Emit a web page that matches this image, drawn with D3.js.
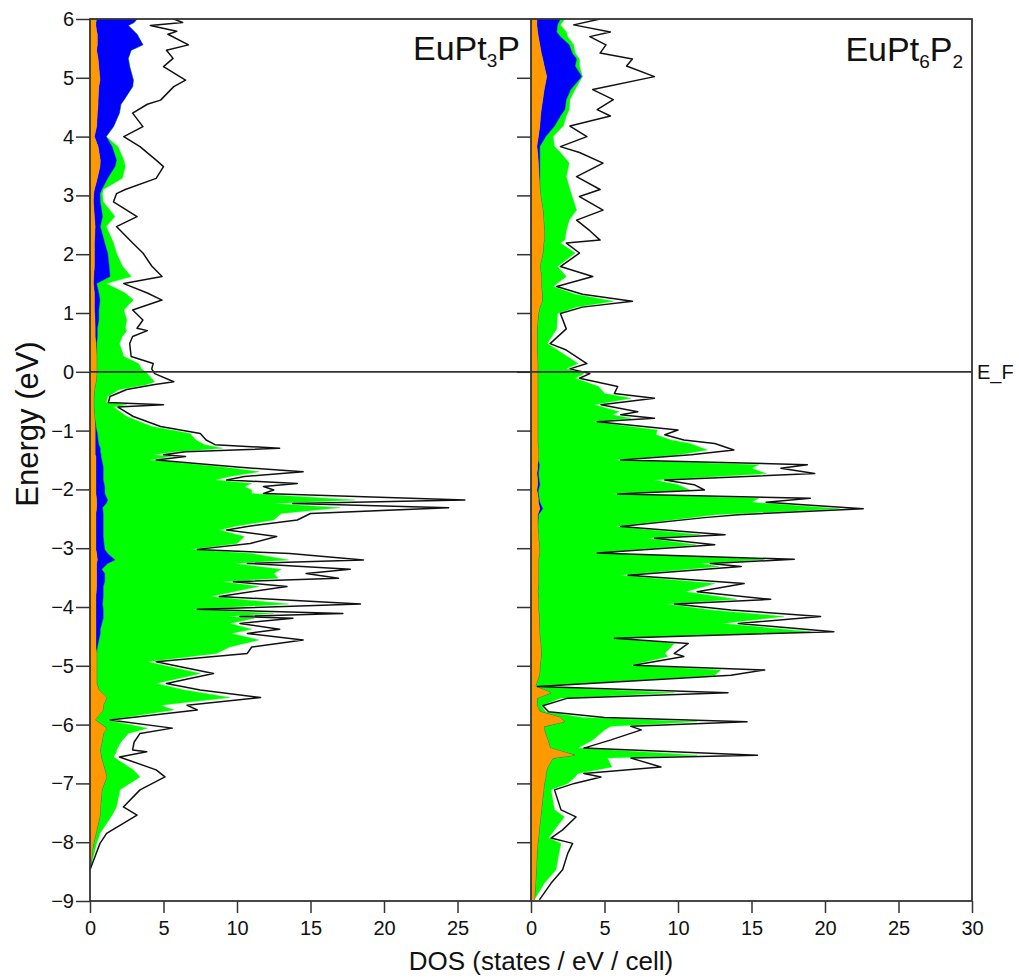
<!DOCTYPE html>
<html>
<head>
<meta charset="utf-8">
<script src="https://cdn.jsdelivr.net/npm/d3@7"></script>
<style>
  body { margin: 0; background: #fff; }
  svg { display: block; font-family: "Liberation Sans", Arial, sans-serif; }
</style>
</head>
<body>
<svg id="chart" width="1019" height="980"></svg>
<script>
// Energy ticks (eV) and DOS ticks (states / eV / cell)
const energyTicks = d3.range(-9, 7);
const dosTicksLeft = [0, 5, 10, 15, 20, 25];
const dosTicksRight = [0, 5, 10, 15, 20, 25, 30];

// EuPt3P - energy grid and DOS.
// orange / blue / green hold the outer edge of each stacked fill, total is the black line
const energyA = [6.00, 5.94, 5.89, 5.79, 5.74, 5.56, 5.47, 5.33, 5.19, 4.96, 4.85, 4.62, 4.55, 4.40, 4.17, 4.00,
  3.83, 3.60, 3.49, 3.29, 3.10, 3.03, 2.89, 2.64, 2.47, 2.19, 2.02, 1.80, 1.62, 1.50, 1.34, 1.22, 1.05, 0.88,
  0.74, 0.70, 0.60, 0.48, 0.26, 0.14, 0.05, -0.03, -0.17, -0.22, -0.30, -0.42, -0.52, -0.56, -0.60, -0.76,
  -0.93, -1.05, -1.16, -1.24, -1.30, -1.36, -1.41, -1.44, -1.50, -1.62, -1.70, -1.78, -1.84, -1.90, -1.95,
  -2.01, -2.07, -2.18, -2.24, -2.31, -2.41, -2.52, -2.63, -2.69, -2.80, -2.92, -3.02, -3.09, -3.20, -3.26,
  -3.36, -3.43, -3.51, -3.57, -3.65, -3.82, -3.95, -4.04, -4.11, -4.16, -4.19, -4.28, -4.38, -4.45, -4.56,
  -4.68, -4.79, -4.93, -5.13, -5.30, -5.41, -5.54, -5.67, -5.75, -5.92, -6.06, -6.15, -6.30, -6.43, -6.46,
  -6.55, -6.77, -6.89, -7.11, -7.40, -7.54, -7.85, -8.02, -8.47];
const totalA = [5.7, 6.3, 4.1, 5.9, 5.3, 6.7, 5.2, 5.65, 5.0, 6.5, 5.7, 4.8, 3.9, 2.9, 3.6, 2.3,
  3.4, 4.5, 5.0, 4.5, 2.4, 1.8, 1.6, 3.2, 1.8, 2.9, 3.6, 4.2, 4.9, 2.3, 3.9, 4.9, 2.9, 3.6,
  3.2, 3.9, 2.9, 2.7, 2.8, 4.3, 4.2, 4.4, 5.7, 4.3, 2.5, 1.36, 1.25, 5.0, 1.9, 2.95,
  4.8, 7.5, 7.9, 8.5, 12.9, 6.5, 5.0, 6.5, 4.5, 10.0, 14.5, 10.5, 9.3, 14.1, 11.8,
  12.5, 11.8, 25.5, 13.8, 24.4, 15.0, 14.1, 10.7, 9.3, 12.7, 10.9, 7.3, 13.6, 18.6, 10.7,
  17.7, 14.7, 16.9, 9.75, 13.4, 8.8, 18.4, 7.3, 17.2, 10.2, 13.8, 10.2, 12.9, 10.7, 14.5,
  11.0, 10.7, 4.5, 8.4, 5.2, 7.5, 11.6, 6.6, 7.3, 1.36, 5.6, 3.4, 3.0, 2.9, 3.86,
  2.0, 4.5, 5.1, 3.4, 2.27, 3.2, 1.13, 0.68, 0];
const greenA = [3.2, 3.0, 2.6, 3.0, 3.2, 3.6, 2.8, 2.6, 2.7, 2.95, 2.9, 2.3, 2.1, 2.0, 1.6, 1.1,
  1.9, 2.3, 2.4, 2.2, 0.9, 0.85, 0.9, 1.7, 1.1, 1.6, 1.8, 2.2, 2.8, 1.1, 2.4, 2.95, 2.3, 2.5,
  2.4, 2.5, 2.2, 2.0, 2.3, 3.3, 3.5, 3.9, 4.4, 3.8, 2.0, 1.2, 1.1, 2.5, 1.6, 2.5,
  4.2, 6.8, 7.2, 7.8, 9.0, 5.8, 4.3, 5.5, 4.0, 9.0, 11.5, 9.5, 8.5, 11.0, 10.5,
  11.0, 11.0, 18.0, 12.5, 17.0, 13.0, 12.5, 9.8, 8.8, 10.5, 10.0, 6.8, 11.0, 13.5, 9.8,
  13.0, 12.5, 12.8, 9.0, 11.5, 8.2, 13.5, 6.8, 12.5, 9.4, 11.2, 9.5, 11.0, 9.6, 11.5,
  9.5, 8.6, 3.9, 7.5, 4.5, 6.4, 9.5, 4.8, 5.7, 1.13, 3.9, 2.6, 2.1, 1.8, 1.8,
  1.6, 2.95, 3.4, 2.04, 1.8, 1.5, 0.68, 0.45, 0];
const blueA = [3.2, 3.0, 2.6, 3.0, 3.2, 3.6, 2.8, 2.6, 2.7, 2.95, 2.9, 2.3, 2.1, 2.0, 1.6, 1.1,
  1.5, 1.8, 1.7, 1.2, 0.8, 0.68, 0.7, 0.85, 0.7, 1.0, 1.2, 1.3, 1.36, 0.45, 0.6, 0.68, 0.6, 0.6,
  0.5, 0.5, 0.5, 0.45, 0.45, 0.45, 0.45, 0.45, 0.4, 0.35, 0.3, 0.25, 0.25, 0.25, 0.25, 0.3,
  0.4, 0.5, 0.55, 0.6, 0.7, 0.7, 0.75, 0.75, 0.8, 0.9, 0.9, 0.9, 0.9, 0.95, 1.0,
  1.0, 1.0, 1.2, 1.1, 0.85, 0.9, 0.9, 0.9, 0.9, 0.9, 0.95, 1.0, 1.2, 1.7, 1.2,
  0.8, 1.0, 1.0, 1.0, 0.9, 0.9, 0.85, 0.9, 0.9, 0.9, 0.9, 0.8, 0.7, 0.7, 0.6,
  0.5, 0.45, 0.45, 0.45, 0.45, 0.6, 1.13, 0.9, 0.9, 0.34, 1.13, 0.9, 0.8, 0.68, 0.7,
  0.75, 1.0, 1.13, 0.8, 0.7, 0.68, 0.4, 0.23, 0];
const orangeA = [0.45, 0.4, 0.4, 0.45, 0.5, 0.5, 0.45, 0.55, 0.6, 0.68, 0.6, 0.55, 0.55, 0.5, 0.45, 0.3,
  0.55, 0.7, 0.68, 0.5, 0.3, 0.25, 0.23, 0.3, 0.35, 0.3, 0.3, 0.3, 0.25, 0.23, 0.3, 0.3, 0.3, 0.34,
  0.35, 0.35, 0.35, 0.4, 0.45, 0.45, 0.45, 0.45, 0.4, 0.35, 0.3, 0.25, 0.25, 0.25, 0.25, 0.3,
  0.35, 0.35, 0.35, 0.35, 0.35, 0.35, 0.35, 0.4, 0.4, 0.4, 0.4, 0.4, 0.4, 0.4, 0.4,
  0.4, 0.4, 0.45, 0.45, 0.45, 0.4, 0.4, 0.4, 0.4, 0.4, 0.4, 0.4, 0.45, 0.5, 0.45,
  0.45, 0.45, 0.45, 0.45, 0.45, 0.4, 0.4, 0.4, 0.4, 0.4, 0.4, 0.4, 0.4, 0.4, 0.4,
  0.4, 0.45, 0.45, 0.45, 0.45, 0.6, 1.13, 0.9, 0.9, 0.34, 1.13, 0.9, 0.8, 0.68, 0.7,
  0.75, 1.0, 1.13, 0.8, 0.7, 0.68, 0.4, 0.23, 0];

// EuPt6P2
const energyB = [6.00, 5.90, 5.78, 5.70, 5.56, 5.42, 5.32, 5.20, 5.02, 4.80, 4.63, 4.46, 4.35, 4.18, 4.00,
  3.83, 3.73, 3.55, 3.32, 3.10, 2.98, 2.75, 2.58, 2.40, 2.24, 2.19, 2.02, 1.79, 1.62, 1.45, 1.32, 1.20,
  1.10, 0.99, 0.73, 0.48, 0.37, 0.14, 0.05, -0.03, -0.11, -0.25, -0.37, -0.45, -0.56, -0.68, -0.73,
  -0.79, -0.85, -0.99, -1.07, -1.16, -1.22, -1.33, -1.41, -1.50, -1.58, -1.64, -1.73, -1.84, -1.92,
  -2.01, -2.08, -2.15, -2.22, -2.33, -2.43, -2.48, -2.63, -2.77, -2.83, -2.94, -3.08, -3.19, -3.26,
  -3.31, -3.46, -3.60, -3.74, -3.87, -3.95, -4.05, -4.16, -4.28, -4.42, -4.53, -4.62, -4.79, -4.84,
  -4.99, -5.07, -5.16, -5.35, -5.46, -5.55, -5.68, -5.78, -5.88, -5.95, -6.03, -6.09, -6.26, -6.40,
  -6.52, -6.57, -6.72, -6.83, -6.89, -7.00, -7.11, -7.45, -7.57, -7.79, -7.93, -8.02, -8.19, -8.47,
  -8.70, -8.98];
const totalB = [4.7, 2.9, 5.4, 4.0, 5.1, 4.7, 6.9, 6.5, 8.4, 4.2, 5.6, 4.5, 5.4, 2.65, 3.8,
  2.0, 3.3, 4.9, 3.1, 4.7, 3.3, 4.9, 3.1, 4.0, 4.7, 2.4, 3.3, 2.0, 4.2, 1.75, 3.5, 6.9,
  3.5, 2.0, 2.4, 1.3, 2.4, 3.8, 2.65, 4.0, 3.3, 5.9, 5.67, 8.4, 4.76, 7.26, 6.1,
  8.4, 4.5, 10.0, 9.1, 10.4, 12.5, 13.8, 10.9, 6.1, 18.8, 17.0, 19.3, 9.1, 11.1,
  11.8, 5.9, 19.0, 16.0, 22.6, 14.1, 11.8, 6.1, 13.2, 8.4, 12.5, 4.5, 17.9, 12.2,
  14.3, 6.6, 14.5, 11.3, 16.3, 9.75, 13.6, 19.7, 14.1, 20.6, 5.67, 10.7, 9.75, 10.4,
  7.0, 15.9, 13.6, 0.45, 13.4, 2.5, 0.8, 1.2, 5.0, 14.7, 6.8, 7.5, 5.44, 3.6,
  15.4, 6.8, 8.84, 3.6, 4.76, 2.95, 1.6, 2.04, 3.06, 2.15, 1.36, 2.83, 2.5, 2.15,
  1.36, 0.57];
const greenB = [2.3, 2.0, 2.4, 2.5, 2.9, 3.0, 3.3, 3.3, 3.5, 3.0, 2.65, 2.6, 2.4, 2.2, 1.5,
  1.6, 2.0, 2.6, 2.4, 2.65, 2.8, 3.1, 2.6, 2.4, 2.3, 2.0, 3.0, 1.8, 2.4, 1.5, 3.0, 5.6,
  3.1, 1.8, 1.75, 1.1, 1.8, 3.2, 2.4, 3.6, 3.0, 4.6, 5.0, 6.8, 4.3, 6.0, 5.5,
  6.8, 4.2, 8.6, 8.5, 9.5, 10.8, 12.0, 10.0, 5.6, 15.5, 15.0, 16.0, 8.4, 10.0,
  10.8, 5.5, 15.5, 15.0, 21.0, 12.5, 11.0, 5.7, 11.5, 7.9, 11.2, 4.2, 15.9, 11.5,
  12.8, 6.0, 12.5, 10.5, 14.0, 9.2, 12.2, 17.2, 13.0, 19.0, 5.4, 9.75, 9.1, 9.3,
  6.8, 12.9, 12.5, 0.3, 9.75, 2.0, 0.7, 1.0, 3.5, 11.3, 5.44, 5.0, 4.2, 3.2,
  11.3, 5.2, 5.5, 3.2, 3.0, 2.5, 1.36, 1.6, 2.27, 1.6, 1.2, 2.04, 1.9, 1.7,
  0.9, 0.23];
const blueB = [2.0, 1.8, 1.75, 2.0, 2.6, 2.8, 3.1, 3.0, 3.45, 2.7, 2.4, 2.3, 2.0, 1.6, 1.0,
  0.6, 0.6, 0.6, 0.6, 0.6, 0.65, 0.8, 0.85, 0.9, 0.9, 0.85, 0.8, 0.6, 0.7, 0.7, 0.75, 0.75,
  0.6, 0.5, 0.4, 0.4, 0.4, 0.45, 0.45, 0.45, 0.45, 0.45, 0.45, 0.45, 0.45, 0.45, 0.45,
  0.45, 0.45, 0.45, 0.45, 0.45, 0.45, 0.5, 0.5, 0.5, 0.57, 0.55, 0.5, 0.55, 0.6,
  0.5, 0.5, 0.55, 0.6, 0.8, 0.5, 0.5, 0.45, 0.5, 0.5, 0.55, 0.57, 0.5, 0.5,
  0.5, 0.5, 0.5, 0.45, 0.5, 0.5, 0.5, 0.55, 0.55, 0.57, 0.6, 0.65, 0.68, 0.68,
  0.6, 0.6, 0.55, 0.3, 1.36, 0.4, 0.4, 0.6, 2.0, 2.27, 0.9, 0.9, 1.13, 1.3,
  2.95, 1.5, 1.13, 1.0, 1.0, 0.9, 0.85, 0.7, 0.65, 0.55, 0.5, 0.45, 0.4, 0.35,
  0.3, 0.23];
const orangeB = [0.4, 0.4, 0.45, 0.5, 0.6, 0.7, 0.8, 0.9, 1.07, 0.9, 0.8, 0.7, 0.65, 0.6, 0.5,
  0.4, 0.45, 0.5, 0.55, 0.6, 0.65, 0.8, 0.85, 0.9, 0.9, 0.85, 0.8, 0.6, 0.7, 0.7, 0.75, 0.75,
  0.6, 0.5, 0.4, 0.4, 0.4, 0.45, 0.45, 0.45, 0.45, 0.45, 0.45, 0.45, 0.45, 0.45, 0.45,
  0.45, 0.45, 0.45, 0.45, 0.45, 0.45, 0.5, 0.5, 0.5, 0.45, 0.45, 0.4, 0.45, 0.45,
  0.4, 0.45, 0.5, 0.5, 0.6, 0.45, 0.45, 0.45, 0.5, 0.5, 0.55, 0.57, 0.5, 0.5,
  0.5, 0.5, 0.5, 0.45, 0.5, 0.5, 0.5, 0.55, 0.55, 0.57, 0.6, 0.65, 0.68, 0.68,
  0.6, 0.6, 0.55, 0.3, 1.36, 0.4, 0.4, 0.6, 2.0, 2.27, 0.9, 0.9, 1.13, 1.3,
  2.95, 1.5, 1.13, 1.0, 1.0, 0.9, 0.85, 0.7, 0.65, 0.55, 0.5, 0.45, 0.4, 0.35,
  0.3, 0.23];

const plotLeft = 90, plotMid = 531, plotRight = 972, plotTop = 19, plotBottom = 901;
const axisColor = '#333';
const fills = { orange: '#ff9900', blue: '#0000ff', green: '#00ff00' };
const fontFamily = '"Liberation Sans", Arial, sans-serif';

const svg = d3.select('#chart');
const y = d3.scaleLinear().domain([-9, 6]).range([plotBottom, plotTop]);

const panels = [
  { id: 'A', x0: plotLeft, x1: plotMid, energy: energyA, total: totalA, green: greenA, blue: blueA, orange: orangeA, ticks: dosTicksLeft },
  { id: 'B', x0: plotMid, x1: plotRight, energy: energyB, total: totalB, green: greenB, blue: blueB, orange: orangeB, ticks: dosTicksRight },
];

const defs = svg.append('defs');

panels.forEach(p => {
  const x = d3.scaleLinear().domain([0, 30]).range([p.x0, p.x1]);

  defs.append('clipPath').attr('id', 'clip' + p.id)
    .append('rect')
    .attr('x', p.x0).attr('y', plotTop)
    .attr('width', p.x1 - p.x0).attr('height', plotBottom - plotTop);

  const rows = p.energy.map((e, i) => ({
    e, tot: p.total[i], g: p.green[i], b: p.blue[i], o: p.orange[i]
  }));

  const g = svg.append('g').attr('clip-path', `url(#clip${p.id})`);

  // stacked fills: orange inner, blue, green outer
  const layers = [
    { key: 'green', lo: d => d.b, hi: d => d.g },
    { key: 'blue', lo: d => d.o, hi: d => d.b },
    { key: 'orange', lo: () => 0, hi: d => d.o },
  ];
  layers.forEach(l => {
    const area = d3.area()
      .y(d => y(d.e))
      .x0(d => x(l.lo(d)))
      .x1(d => x(l.hi(d)));
    g.append('path')
      .datum(rows)
      .attr('d', area)
      .attr('fill', fills[l.key])
      .attr('stroke', fills[l.key])
      .attr('stroke-width', 0.4);
  });

  // total DOS line
  const line = d3.line().x(d => x(d.tot)).y(d => y(d.e));
  g.append('path')
    .datum(rows)
    .attr('d', line)
    .attr('fill', 'none')
    .attr('stroke', '#111')
    .attr('stroke-width', 1.5)
    .attr('stroke-linejoin', 'round');

  // bottom axis
  const xAxis = svg.append('g')
    .attr('transform', `translate(0,${plotBottom})`)
    .call(d3.axisBottom(x).tickValues(p.ticks).tickSize(12).tickPadding(8));
  xAxis.select('.domain').remove();
  xAxis.selectAll('line').attr('stroke', axisColor).attr('stroke-width', 1.5);
  xAxis.selectAll('text').attr('font-size', 20).attr('fill', '#111').attr('font-family', fontFamily);
});

// left energy axis
const yAxis = svg.append('g')
  .attr('transform', `translate(${plotLeft},0)`)
  .call(d3.axisLeft(y).tickValues(energyTicks).tickSize(14).tickPadding(2));
yAxis.select('.domain').remove();
yAxis.selectAll('line').attr('stroke', axisColor).attr('stroke-width', 1.5);
yAxis.selectAll('text').attr('font-size', 20).attr('fill', '#111').attr('font-family', fontFamily);

// ticks on the divider between panels, pointing left
const midAxis = svg.append('g')
  .attr('transform', `translate(${plotMid},0)`)
  .call(d3.axisLeft(y).tickValues(energyTicks.slice(1, -1)).tickSize(14).tickFormat(''));
midAxis.select('.domain').remove();
midAxis.selectAll('line').attr('stroke', axisColor).attr('stroke-width', 1.5);

// frame and divider
const frame = svg.append('g').attr('stroke', axisColor).attr('stroke-width', 1.8).attr('fill', 'none');
frame.append('rect')
  .attr('x', plotLeft).attr('y', plotTop)
  .attr('width', plotRight - plotLeft).attr('height', plotBottom - plotTop);
frame.append('line').attr('x1', plotMid).attr('x2', plotMid).attr('y1', plotTop).attr('y2', plotBottom);

// Fermi level
svg.append('line')
  .attr('x1', plotLeft).attr('x2', plotRight)
  .attr('y1', y(0)).attr('y2', y(0))
  .attr('stroke', axisColor).attr('stroke-width', 1.8);
svg.append('text')
  .attr('x', plotRight + 5).attr('y', y(0) + 7)
  .attr('font-size', 20).attr('fill', '#111')
  .text('E_F');

// compound labels
const labA = svg.append('text').attr('x', 520).attr('y', 60)
  .attr('text-anchor', 'end').attr('font-size', 34).attr('fill', '#111');
labA.append('tspan').text('EuPt');
labA.append('tspan').attr('font-size', 19).attr('dy', 7).text('3');
labA.append('tspan').attr('dy', -7).text('P');

const labB = svg.append('text').attr('x', 963).attr('y', 61)
  .attr('text-anchor', 'end').attr('font-size', 34).attr('fill', '#111');
labB.append('tspan').text('EuPt');
labB.append('tspan').attr('font-size', 19).attr('dy', 7).text('6');
labB.append('tspan').attr('dy', -7).text('P');
labB.append('tspan').attr('font-size', 19).attr('dy', 7).text('2');

// axis titles
svg.append('text')
  .attr('transform', 'translate(38,424) rotate(-90)')
  .attr('text-anchor', 'middle')
  .attr('font-size', 31).attr('fill', '#111')
  .text('Energy (eV)');

svg.append('text')
  .attr('x', 541).attr('y', 970)
  .attr('text-anchor', 'middle')
  .attr('font-size', 26).attr('fill', '#111')
  .text('DOS (states / eV / cell)');
</script>
</body>
</html>
